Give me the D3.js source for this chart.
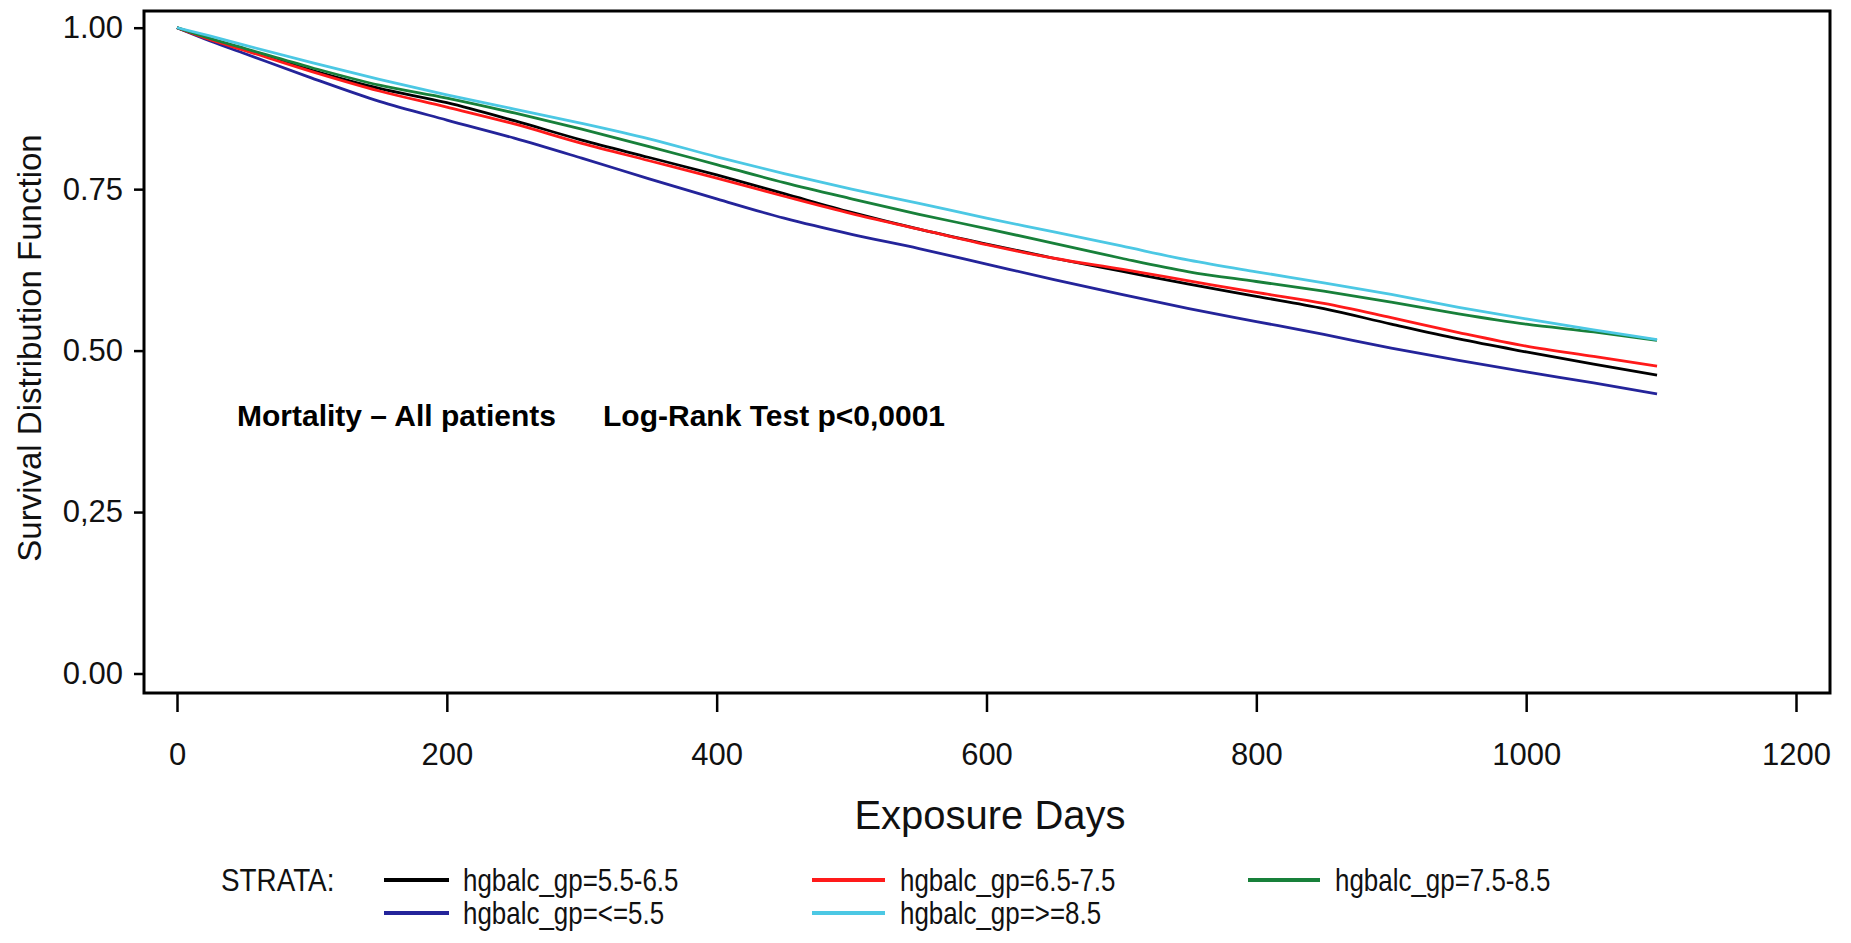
<!DOCTYPE html>
<html>
<head>
<meta charset="utf-8">
<script src="https://cdn.jsdelivr.net/npm/d3@7/dist/d3.min.js"></script>
<style>
  html, body { margin: 0; padding: 0; background: #fff; }
  svg { display: block; font-family: "Liberation Sans", Arial, sans-serif; }
</style>
</head>
<body>
<svg id="chart" width="1851" height="943"></svg>
<script>
// ---- data ----
const days = [0, 25, 50, 100, 150, 200, 250, 300, 350, 400, 450, 500, 550, 600, 650, 700, 750, 800, 850, 900, 950, 1000, 1050, 1097];
const s_55_65 = [1.000, 0.982, 0.966, 0.934, 0.906, 0.884, 0.856, 0.826, 0.799, 0.772, 0.743, 0.714, 0.688, 0.665, 0.643, 0.623, 0.603, 0.584, 0.565, 0.541, 0.518, 0.498, 0.479, 0.462];
const s_65_75 = [1.000, 0.981, 0.965, 0.932, 0.902, 0.877, 0.851, 0.821, 0.794, 0.767, 0.739, 0.712, 0.688, 0.664, 0.643, 0.626, 0.608, 0.590, 0.573, 0.551, 0.528, 0.507, 0.491, 0.476];
const s_75_85 = [1.000, 0.983, 0.968, 0.938, 0.911, 0.891, 0.868, 0.843, 0.816, 0.788, 0.760, 0.735, 0.711, 0.689, 0.666, 0.643, 0.622, 0.607, 0.592, 0.575, 0.557, 0.541, 0.529, 0.516];
const s_le55  = [1.000, 0.979, 0.960, 0.922, 0.886, 0.857, 0.829, 0.798, 0.766, 0.735, 0.705, 0.680, 0.658, 0.634, 0.610, 0.587, 0.565, 0.545, 0.525, 0.504, 0.485, 0.467, 0.450, 0.433];
const s_ge85  = [1.000, 0.987, 0.973, 0.946, 0.920, 0.896, 0.874, 0.852, 0.828, 0.800, 0.774, 0.750, 0.728, 0.705, 0.684, 0.662, 0.640, 0.622, 0.605, 0.587, 0.567, 0.549, 0.532, 0.517];

const strataNames = ["hgbalc_gp=5.5-6.5", "hgbalc_gp=6.5-7.5", "hgbalc_gp=7.5-8.5", "hgbalc_gp=<=5.5", "hgbalc_gp=>=8.5"];
const strataColors = ["#000000", "#ff1a1a", "#18803a", "#24249a", "#4cc8e4"];
const strataValues = [s_55_65, s_65_75, s_75_85, s_le55, s_ge85];

const xTicks = [0, 200, 400, 600, 800, 1000, 1200];
const yTicks = [0, 0.25, 0.5, 0.75, 1.0];
const yTickLabels = ["0.00", "0,25", "0.50", "0.75", "1.00"];

// ---- layout ----
const svg = d3.select("#chart");
const frame = { left: 144, top: 11, right: 1830, bottom: 693 };
const x = d3.scaleLinear().domain([0, 1200]).range([177, 1796]);
const y = d3.scaleLinear().domain([0, 1]).range([673.5, 27.7]);

// curves
const drawOrder = [3, 0, 1, 2, 4];
const line = d3.line().x(d => x(d[0])).y(d => y(d[1])).curve(d3.curveMonotoneX);
drawOrder.forEach(i => {
  const pts = days.map((d, k) => [d, strataValues[i][k]]);
  svg.append("path")
    .attr("d", line(pts))
    .attr("fill", "none")
    .attr("stroke", strataColors[i])
    .attr("stroke-width", 2.8)
    .attr("stroke-linejoin", "round");
});

// frame
svg.append("rect")
  .attr("x", frame.left).attr("y", frame.top)
  .attr("width", frame.right - frame.left)
  .attr("height", frame.bottom - frame.top)
  .attr("fill", "none").attr("stroke", "#000").attr("stroke-width", 3);

// y axis
const yAxis = d3.axisLeft(y)
  .tickValues(yTicks)
  .tickFormat((d, i) => yTickLabels[i])
  .tickSize(9)
  .tickPadding(11);
const gy = svg.append("g").attr("transform", `translate(${frame.left - 1},0)`).call(yAxis);
gy.select(".domain").remove();
gy.selectAll(".tick line").attr("stroke", "#000").attr("stroke-width", 2.5);
gy.selectAll(".tick text")
  .attr("font-family", "'Liberation Sans', Arial, sans-serif")
  .attr("font-size", 31).attr("fill", "#111");

// x axis
const xAxis = d3.axisBottom(x)
  .tickValues(xTicks)
  .tickFormat(d3.format("d"))
  .tickSize(18)
  .tickPadding(31);
const gx = svg.append("g").attr("transform", `translate(0,${frame.bottom + 1})`).call(xAxis);
gx.select(".domain").remove();
gx.selectAll(".tick line").attr("stroke", "#000").attr("stroke-width", 2.5);
gx.selectAll(".tick text")
  .attr("font-family", "'Liberation Sans', Arial, sans-serif")
  .attr("font-size", 31).attr("fill", "#111");

// axis titles
svg.append("text")
  .attr("transform", "translate(41,348) rotate(-90)")
  .attr("text-anchor", "middle")
  .attr("font-size", 33).attr("fill", "#111")
  .text("Survival Distribution Function");

svg.append("text")
  .attr("x", 990).attr("y", 829)
  .attr("text-anchor", "middle")
  .attr("font-size", 40).attr("fill", "#111")
  .text("Exposure Days");

// annotation
svg.append("text")
  .attr("x", 237).attr("y", 426)
  .attr("font-size", 30).attr("font-weight", "bold").attr("fill", "#000")
  .text("Mortality \u2013 All patients");
svg.append("text")
  .attr("x", 603).attr("y", 426)
  .attr("font-size", 30).attr("font-weight", "bold").attr("fill", "#000")
  .text("Log-Rank Test p<0,0001");

// legend
const legRowY = [880, 913];
const legCols = [{ x1: 384, x2: 449, tx: 463 }, { x1: 812, x2: 885, tx: 900 }, { x1: 1248, x2: 1320, tx: 1335 }];
const legPos = [[0, 0], [0, 1], [0, 2], [1, 0], [1, 1]];
const legFont = 32, squeeze = 0.81;
const strata = svg.append("text")
  .attr("x", 221).attr("y", legRowY[0]).attr("dy", "0.35em")
  .attr("font-size", legFont).attr("fill", "#111")
  .text("STRATA:");
strata.attr("textLength", strata.node().getComputedTextLength() * 0.87).attr("lengthAdjust", "spacingAndGlyphs");
strataNames.forEach((name, i) => {
  const [r, c] = legPos[i];
  const col = legCols[c];
  svg.append("line")
    .attr("x1", col.x1).attr("x2", col.x2)
    .attr("y1", legRowY[r]).attr("y2", legRowY[r])
    .attr("stroke", strataColors[i]).attr("stroke-width", 4);
  const t = svg.append("text")
    .attr("x", col.tx).attr("y", legRowY[r]).attr("dy", "0.35em")
    .attr("font-size", legFont).attr("fill", "#111")
    .text(name);
  t.attr("textLength", t.node().getComputedTextLength() * squeeze).attr("lengthAdjust", "spacingAndGlyphs");
});
</script>
</body>
</html>
